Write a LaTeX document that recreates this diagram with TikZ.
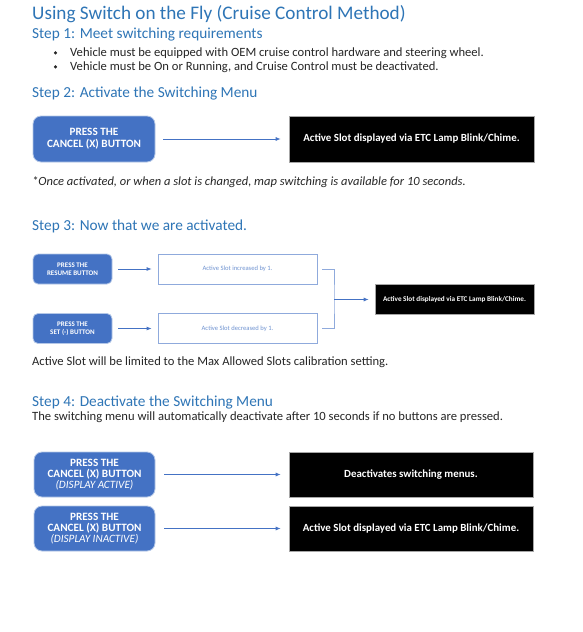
\documentclass[tikz,border=0pt]{standalone}
\usepackage{fontspec}
\setmainfont{Carlito}
\usetikzlibrary{arrows.meta}
\definecolor{hblue}{HTML}{2E75B6}
\definecolor{bfill}{HTML}{4472C4}
\definecolor{bedge}{HTML}{B4C7E7}
\definecolor{wedge}{HTML}{8FAADC}
\definecolor{wtext}{HTML}{6F93D1}
\definecolor{txt}{HTML}{262626}
\tikzset{
  heading/.style={anchor=base west, inner sep=0, text=hblue, font=\fontsize{15.3}{17}\selectfont},
  bodytext/.style={anchor=base west, inner sep=0, text=txt, font=\fontsize{12.6}{14}\selectfont},
  bluebox/.style={draw=bedge, line width=0.8pt, fill=bfill, rounded corners=8pt, text=white, inner sep=0, align=center, font=\bfseries\fontsize{11.2}{12}\selectfont},
  bluebox3/.style={bluebox, font=\bfseries\fontsize{11.2}{11.3}\selectfont},
  smallblue/.style={bluebox, rounded corners=5pt, font=\bfseries\fontsize{7}{7.8}\selectfont},
  blackbox/.style={draw=gray!70, line width=0.6pt, fill=black, text=white, inner sep=0, align=center, font=\bfseries\fontsize{10.9}{12}\selectfont},
  smallblack/.style={blackbox, font=\bfseries\fontsize{7.2}{8}\selectfont},
  whitebox/.style={draw=wedge, line width=0.8pt, fill=white, text=wtext, inner sep=0, align=center, font=\fontsize{6.6}{7.5}\selectfont},
  arr/.style={draw=bfill, line width=0.8pt, -{Latex[length=5pt,width=4pt]}},
  bracket/.style={draw=wedge, line width=0.8pt},
  dot/.style={circle, fill=txt, inner sep=0, minimum size=3.4pt},
}
\begin{document}
\begin{tikzpicture}[x=1pt,y=-1pt]
\useasboundingbox[fill=white] (0,0) rectangle (583,632);

% headings and text
\node[heading, font=\fontsize{19.2}{21}\selectfont] (title) at (32,19) {Using Switch on the Fly (Cruise Control Method)};
\node[heading] (s1) at (32,38.5) {Step 1: Meet switching requirements};
\node[bodytext] (b1) at (70,56.5) {Vehicle must be equipped with OEM cruise control hardware and steering wheel.};
\node[bodytext] (b2) at (70,70.5) {Vehicle must be On or Running, and Cruise Control must be deactivated.};
\node[dot] (d1) at (55.5,52.8) {};
\node[dot] (d2) at (55.5,66.8) {};
\node[heading] (s2) at (32,97) {Step 2: Activate the Switching Menu};

% step 2 boxes
\node[bluebox, minimum width=122pt, minimum height=46pt] (p2) at (94,139) {PRESS THE\\CANCEL (X) BUTTON};
\node[blackbox, minimum width=245pt, minimum height=46pt] (k2) at (411.5,139) {Active Slot displayed via ETC Lamp Blink/Chime.};
\draw[arr, shorten <=8pt, shorten >=8pt] (p2) -- (k2);

\node[bodytext, font=\itshape\fontsize{12.5}{14}\selectfont] (fn) at (32,185.5) {*Once activated, or when a slot is changed, map switching is available for 10 seconds.};

\node[heading] (s3) at (32,230.5) {Step 3: Now that we are activated.};

% step 3 boxes
\node[smallblue, minimum width=79pt, minimum height=30pt] (pr) at (72.5,269) {PRESS THE\\RESUME BUTTON};
\node[smallblue, minimum width=79pt, minimum height=30pt] (ps) at (72.5,328.5) {PRESS THE\\SET (-) BUTTON};
\node[whitebox, minimum width=159pt, minimum height=30pt] (w1) at (237.5,269) {Active Slot increased by 1.};
\node[whitebox, minimum width=159pt, minimum height=30pt] (w2) at (237.5,328.5) {Active Slot decreased by 1.};
\node[smallblack, minimum width=159pt, minimum height=30pt] (k3) at (454.5,299.5) {Active Slot displayed via ETC Lamp Blink/Chime.};
\draw[arr, shorten <=6pt, shorten >=6pt] (pr) -- (w1);
\draw[arr, shorten <=6pt, shorten >=6pt] (ps) -- (w2);
\coordinate (j) at (334,299.5);
\draw[bracket] ([xshift=5pt]w1.east) -| (j) |- ([xshift=5pt]w2.east);
\draw[arr] (j) -- ([xshift=-6pt]k3.west);

\node[bodytext] (lim) at (32,365.5) {Active Slot will be limited to the Max Allowed Slots calibration setting.};

\node[heading] (s4) at (32,406) {Step 4: Deactivate the Switching Menu};
\node[bodytext] (auto) at (32,420.5) {The switching menu will automatically deactivate after 10 seconds if no buttons are pressed.};

% step 4 boxes
\node[bluebox3, minimum width=121pt, minimum height=45pt] (pa) at (94.5,474.5) {PRESS THE\\CANCEL (X) BUTTON\\{\mdseries\itshape (DISPLAY ACTIVE)}};
\node[bluebox3, minimum width=121pt, minimum height=45pt] (pi) at (94.5,528.5) {PRESS THE\\CANCEL (X) BUTTON\\{\mdseries\itshape (DISPLAY INACTIVE)}};
\node[blackbox, minimum width=244pt, minimum height=45pt] (ka) at (411,474.5) {Deactivates switching menus.};
\node[blackbox, minimum width=244pt, minimum height=45pt] (ki) at (411,528.5) {Active Slot displayed via ETC Lamp Blink/Chime.};
\draw[arr, shorten <=9pt, shorten >=8pt] (pa) -- (ka);
\draw[arr, shorten <=9pt, shorten >=8pt] (pi) -- (ki);
\end{tikzpicture}
\end{document}
